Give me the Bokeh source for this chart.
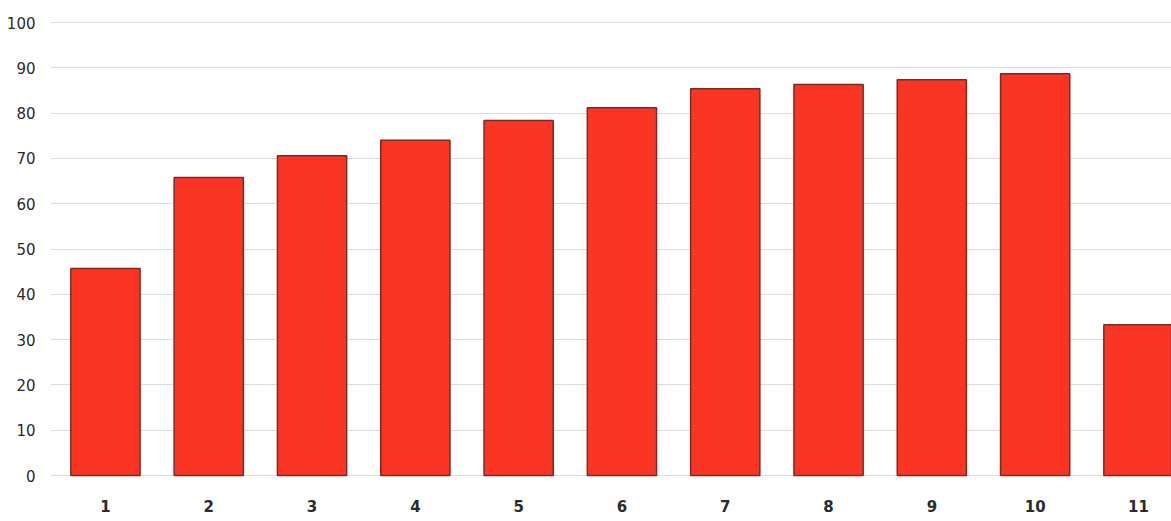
from bokeh.plotting import figure
from bokeh.models import Range1d, FixedTicker, ColumnDataSource
from bokeh.embed import file_html
from bokeh.resources import INLINE

categories = [1, 2, 3, 4, 5, 6, 7, 8, 9, 10, 11]
values = [45.7, 65.8, 70.6, 74.0, 78.4, 81.2, 85.4, 86.3, 87.4, 88.7, 33.3]
x_tick_labels = {c: str(c) for c in categories}
y_ticks = [0, 10, 20, 30, 40, 50, 60, 70, 80, 90, 100]

src = ColumnDataSource(dict(x=categories, top=values))

p = figure(width=1171, height=521, output_backend="svg", toolbar_location=None,
           x_range=Range1d(0.468, 11.32), y_range=Range1d(-1.1, 102.0),
           min_border_left=50, min_border_right=0, min_border_top=13, min_border_bottom=41)
p.outline_line_color = None
p.background_fill_color = "white"
p.border_fill_color = "white"

p.vbar(x="x", top="top", bottom=0, width=0.67, source=src,
       fill_color="#fa3524", line_color="#7a2a22", line_width=1.5)

p.xgrid.grid_line_color = None
p.ygrid.grid_line_color = "#dcdcdc"
p.ygrid.grid_line_width = 1
p.yaxis.ticker = FixedTicker(ticks=y_ticks)
p.xaxis.ticker = FixedTicker(ticks=categories)
p.xaxis.major_label_overrides = x_tick_labels

for ax in (p.xaxis, p.yaxis):
    ax.axis_line_color = None
    ax.major_tick_line_color = None
    ax.minor_tick_line_color = None
    ax.major_label_text_font = "DejaVu Sans"
    ax.major_label_text_font_size = "15px"
    ax.major_label_text_color = "#2b2b2b"

p.yaxis.major_label_standoff = 9
p.xaxis.major_label_standoff = 13
p.xaxis.major_label_text_font_style = "bold"

open("out.html", "w").write(file_html(p, INLINE))
